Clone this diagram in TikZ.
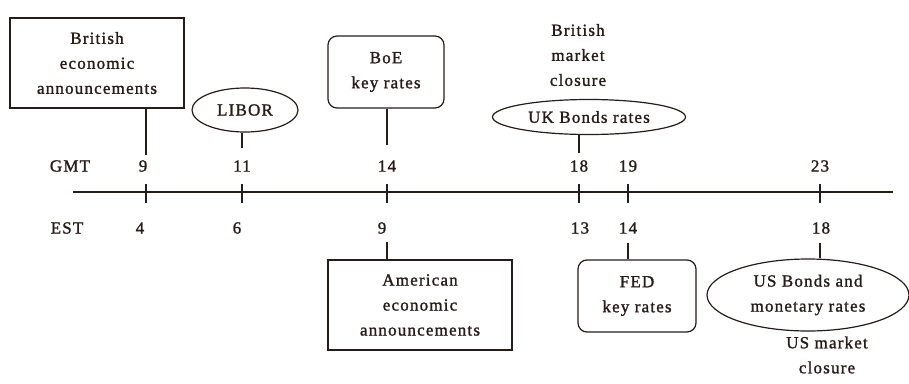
\documentclass[tikz,border=0pt]{standalone}
\usepackage{fontspec}
\setmainfont{Liberation Serif}[LetterSpace=7,FakeBold=1.3]
\usetikzlibrary{shapes.geometric}
\definecolor{ink}{RGB}{40,28,24}
\begin{document}
\begin{tikzpicture}[x=1pt,y=-1pt,
  every node/.style={text=ink,font=\fontsize{17}{25}\selectfont,align=center,inner sep=0pt},
  boxed/.style={draw=ink,line width=1.2pt,rectangle},
  rboxed/.style={draw=ink,line width=1.2pt,rectangle,rounded corners=9pt},
  oval/.style={draw=ink,line width=1.2pt,ellipse},
  link/.style={draw=ink,line width=1.2pt},
  lbl/.style={anchor=center}]
\useasboundingbox[fill=white] (0,0) rectangle (909,383);
% axis
\coordinate (axL) at (73,192);
\coordinate (axR) at (893,192);
\draw[link] (axL) -- (axR);
\foreach \n/\x in {a/146,b/242,c/387,d/579,e/628,f/820}{
  \coordinate (tt\n) at (\x,184);
  \coordinate (tb\n) at (\x,203);
  \draw[link] (tt\n) -- (tb\n);
}
% GMT row
\node[lbl] (gmt) at (70,166) {GMT};
\node[lbl] (g9) at (143,166) {9};
\node[lbl] (g11) at (242,166) {11};
\node[lbl] (g14) at (387,166) {14};
\node[lbl] (g18) at (579,166) {18};
\node[lbl] (g19) at (628,166) {19};
\node[lbl] (g23) at (820,166) {23};
% EST row
\node[lbl] (est) at (67,228) {EST};
\node[lbl] (e4) at (140,228) {4};
\node[lbl] (e6) at (237,228) {6};
\node[lbl] (e9) at (382,228) {9};
\node[lbl] (e13) at (580,228) {13};
\node[lbl] (e14) at (628,228) {14};
\node[lbl] (e18) at (821,228) {18};
% top items
\node[boxed,minimum width=174pt,minimum height=90pt] (brit) at (97,63) {British\\economic\\announcements};
\node[oval,minimum width=106pt,minimum height=44pt] (libor) at (245,110) {LIBOR};
\node[rboxed,minimum width=116pt,minimum height=72pt] (boe) at (386,72) {BoE\\key rates};
\node (bmc) at (578,55) {British\\market\\closure};
\node[oval,minimum width=193pt,minimum height=35pt] (ukb) at (589,117) {UK Bonds rates};
% bottom items
\node[boxed,minimum width=184pt,minimum height=90pt] (amer) at (420,305) {American\\economic\\announcements};
\node[rboxed,minimum width=118pt,minimum height=72pt] (fed) at (637,296) {FED\\key rates};
\node[oval,minimum width=202pt,minimum height=72pt] (usb) at (808,295) {US Bonds and\\monetary rates};
\node (usc) at (827,355) {US market\\closure};
% connector ends
\coordinate (ca) at (146,155);
\coordinate (cb) at (242,148);
\coordinate (cc) at (387,145);
\coordinate (cd) at (579,153);
\coordinate (ce) at (387,242);
\coordinate (cf) at (628,243);
\coordinate (cg) at (820,243);
\draw[link] (brit.south -| ca) -- (ca);
\draw[link] (libor.south -| cb) -- (cb);
\draw[link] (boe.south -| cc) -- (cc);
\draw[link] (ukb.south -| cd) -- (cd);
\draw[link] (amer.north -| ce) -- (ce);
\draw[link] (fed.north -| cf) -- (cf);
\draw[link] (usb.north -| cg) -- (cg);
\end{tikzpicture}
\end{document}
